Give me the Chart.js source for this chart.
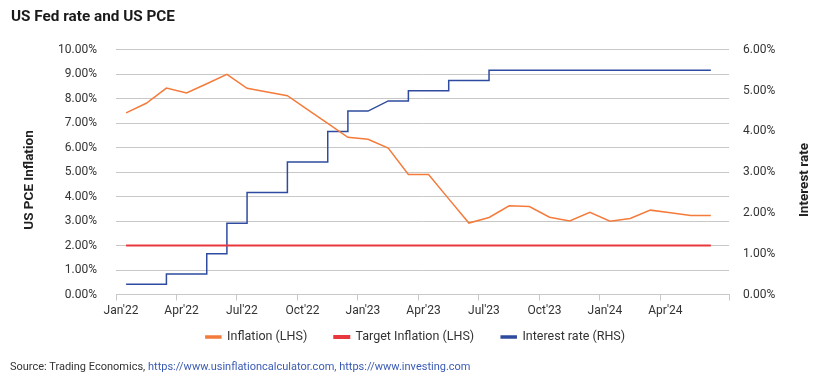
<!DOCTYPE html>
<html><head><meta charset="utf-8">
<script src="https://cdn.jsdelivr.net/npm/chart.js@4/dist/chart.umd.min.js"></script>
<style>
html,body{margin:0;padding:0;background:#fff;}
#wrap{position:relative;width:831px;height:382px;}
canvas{display:block;}
#source{position:absolute;left:10px;top:360px;font:11px Roboto, sans-serif;color:#333;white-space:nowrap;}
#source .l{color:#3b5bb3;}
</style></head><body>
<div id="wrap"><canvas id="c" width="831" height="382"></canvas>
<div id="source">Source: Trading Economics, <span class="l">https://www.usinflationcalculator.com, https://www.investing.com</span></div></div>
<script>
const tickLabels = ["Jan'22","Apr'22","Jul'22","Oct'22","Jan'23","Apr'23","Jul'23","Oct'23","Jan'24","Apr'24"];
const months = ["2022-01","2022-02","2022-03","2022-04","2022-05","2022-06","2022-07","2022-08","2022-09","2022-10","2022-11","2022-12",
  "2023-01","2023-02","2023-03","2023-04","2023-05","2023-06","2023-07","2023-08","2023-09","2023-10","2023-11","2023-12",
  "2024-01","2024-02","2024-03","2024-04","2024-05","2024-06"];
const inflation = [7.43,7.82,8.44,8.24,8.62,9.00,8.43,8.28,8.13,7.56,7.00,6.43,
  6.35,5.99,4.91,4.91,3.91,2.92,3.15,3.63,3.60,3.16,3.01,3.36,
  3.00,3.11,3.45,3.34,3.23,3.23];
const targetInflation = [2,2,2,2,2,2,2,2,2,2,2,2,2,2,2,2,2,2,2,2,2,2,2,2,2,2,2,2,2,2];
const rateMonths = ["2022-01","2022-03","2022-03","2022-05","2022-05","2022-06","2022-06","2022-07","2022-07","2022-09","2022-09","2022-11",
  "2022-11","2022-12","2022-12","2023-01","2023-02","2023-03","2023-03","2023-05","2023-05","2023-07","2023-07","2024-06"];
const rateValues = [0.25,0.25,0.5,0.5,1.0,1.0,1.75,1.75,2.5,2.5,3.25,3.25,4.0,4.0,4.5,4.5,4.75,4.75,5.0,5.0,5.25,5.25,5.5,5.5];
const leftTicks = [0,1,2,3,4,5,6,7,8,9,10];
const rightTicks = [0,1,2,3,4,5,6];

const pos = m => months.indexOf(m) + 0.5;
const FONT = 'Roboto, sans-serif';
const TXT = '#333333';
const GRID = '#c8c8c8';
const LEG_PAD = 27, LEG_FONT = 12.5;

const axisTitles = {
  id: 'axisTitles',
  afterLayout(chart) {
    const L = chart.legend;
    if (L) {
      const dy = 337 - (L.top + LEG_PAD + LEG_FONT / 2);
      L.top += dy; L.bottom += dy;
    }
  },
  afterDraw(chart) {
    const ctx = chart.ctx;
    ctx.save();
    ctx.font = 'bold 13.5px ' + FONT;
    ctx.fillStyle = '#222';
    ctx.textAlign = 'center';
    ctx.textBaseline = 'middle';
    [['US PCE Inflation', 30, 180], ['Interest rate', 805, 180]].forEach(([t, x, y]) => {
      ctx.save(); ctx.translate(x, y); ctx.rotate(-Math.PI / 2); ctx.fillText(t, 0, 0); ctx.restore();
    });
    ctx.restore();
  }
};

new Chart(document.getElementById('c'), {
  type: 'line',
  data: {
    datasets: [
      { label: 'Inflation (LHS)', data: inflation.map((v, i) => ({x: pos(months[i]), y: v})),
        borderColor: '#f47b3b', backgroundColor: '#f47b3b', borderWidth: 1.5, yAxisID: 'y' },
      { label: 'Target Inflation (LHS)', data: targetInflation.map((v, i) => ({x: pos(months[i]), y: v})),
        borderColor: '#e8383d', backgroundColor: '#e8383d', borderWidth: 2, yAxisID: 'y' },
      { label: 'Interest rate (RHS)', data: rateValues.map((v, i) => ({x: pos(rateMonths[i]), y: v})),
        borderColor: '#2e4b9f', backgroundColor: '#2e4b9f', borderWidth: 1.5, yAxisID: 'y1' }
    ]
  },
  options: {
    responsive: false, animation: false, devicePixelRatio: 1,
    elements: { point: { radius: 0, hoverRadius: 0 }, line: { tension: 0 } },
    layout: { padding: { left: 11, right: 11, top: 0, bottom: 14 } },
    plugins: {
      tooltip: { enabled: false },
      title: { display: true, text: 'US Fed rate and US PCE', align: 'start', color: '#1a1a1a',
        font: { family: FONT, size: 15.3, weight: 'bold' }, padding: { top: 8, bottom: 23.6 } },
      legend: { position: 'bottom', align: 'center',
        labels: { color: TXT, font: { family: FONT, size: LEG_FONT }, boxWidth: 15, boxHeight: 2, padding: LEG_PAD } }
    },
    scales: {
      x: { type: 'linear', min: 0, max: 30.4,
        afterBuildTicks: a => { a.ticks = [0,3,6,9,12,15,18,21,24,27,30.4].map(v => ({value: v})); },
        afterFit: a => { a.height = 24; },
        ticks: { autoSkip: false, maxRotation: 0, labelOffset: 5, padding: 3, color: TXT,
          font: { family: FONT, size: 12 },
          callback: v => (v % 3 === 0 && v / 3 < tickLabels.length) ? tickLabels[v / 3] : '' },
        grid: { drawOnChartArea: false, drawTicks: true, tickLength: 6, color: GRID },
        border: { display: true, color: GRID } },
      y: { position: 'left', min: 0, max: 10,
        afterBuildTicks: a => { a.ticks = leftTicks.map(v => ({value: v})); },
        afterFit: a => { a.width = 105; },
        ticks: { padding: 19, color: TXT, font: { family: FONT, size: 12 }, callback: v => v.toFixed(2) + '%' },
        grid: { drawTicks: false, color: GRID }, border: { display: false } },
      y1: { position: 'right', min: 0, max: 6,
        afterBuildTicks: a => { a.ticks = rightTicks.map(v => ({value: v})); },
        afterFit: a => { a.width = 91; },
        ticks: { padding: 14, color: TXT, font: { family: FONT, size: 12 }, callback: v => v.toFixed(2) + '%' },
        grid: { display: false, drawTicks: false }, border: { display: false } }
    }
  },
  plugins: [axisTitles]
});
</script></body></html>
